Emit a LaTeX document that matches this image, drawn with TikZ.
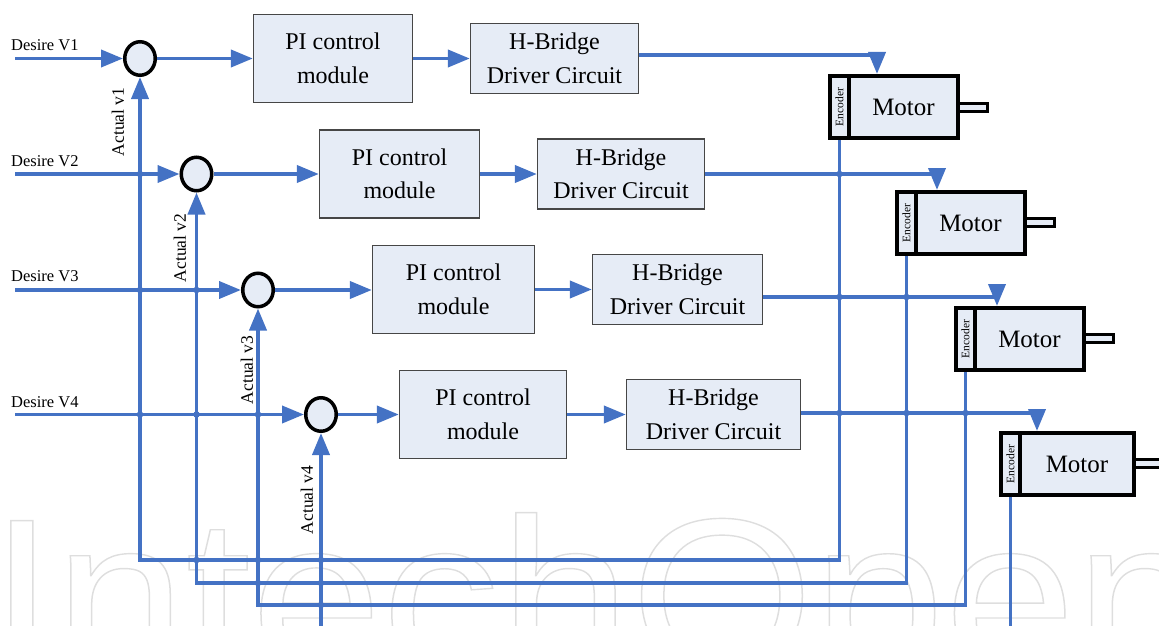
\documentclass[tikz,border=0pt]{standalone}
\usepackage{fontspec}
\setmainfont{Liberation Serif}
\newfontfamily\tnr{Liberation Serif}
\newfontfamily\wmfont{Liberation Sans}
\usetikzlibrary{arrows.meta,shapes.geometric,calc}

\definecolor{wire}{HTML}{4472C4}
\definecolor{boxfill}{RGB}{230,236,246}
\definecolor{boxline}{RGB}{70,70,70}
\definecolor{wmline}{RGB}{222,222,222}

% stroked (outlined) text for the background mark
\newcommand\strokedtext[1]{%
  \special{pdf:literal direct 1 Tr 1.4 w}#1\special{pdf:literal direct 0 Tr}}

\tikzset{
  wire/.style={draw=wire, line width=3.8pt},
  flow/.style={wire, -{Triangle[length=22pt,width=17pt]}},
  block/.style={draw=boxline, fill=boxfill, line width=1.3pt, align=center,
    inner sep=0pt, font=\tnr\fontsize{24}{33.5}\selectfont},
  pibox/.style={block, minimum height=88pt},
  hbbox/.style={block, minimum height=70pt},
  sumnode/.style={ellipse, draw=black, fill=boxfill, line width=3.5pt,
    minimum width=30.5pt, minimum height=33.5pt, inner sep=0pt},
  encbox/.style={draw=black, fill=boxfill, line width=3.5pt,
    minimum width=19pt, minimum height=62pt, inner sep=0pt},
  motorbody/.style={draw=black, fill=boxfill, line width=3.5pt,
    minimum height=62pt, inner sep=0pt, font=\tnr\fontsize{25}{25}\selectfont},
  shaft/.style={draw=black, fill=boxfill, line width=3pt},
  inlabel/.style={anchor=west, inner sep=0pt, font=\tnr\fontsize{16.5}{16.5}\selectfont},
  fblabel/.style={rotate=90, inner sep=0pt, font=\tnr\fontsize{17.5}{17.5}\selectfont},
  enclabel/.style={rotate=90, inner sep=0pt, font=\tnr\fontsize{11.5}{11.5}\selectfont},
  joint/.style={circle, fill=wire, inner sep=0pt, minimum size=6.5pt},
}

\begin{document}
\begin{tikzpicture}[x=1pt, y=-1pt]
\useasboundingbox (0,0) rectangle (1159,626);
\clip (0,0) rectangle (1159,626);

% publisher mark in the background
\node[anchor=base west, inner sep=0pt, xscale=1.07, transform shape,
      text=wmline, font=\wmfont\fontsize{220}{220}\selectfont] (wm) at (-11,672)
      {\strokedtext{IntechOpen}};

% reference inputs
\coordinate (in1) at (15,58.5);
\coordinate (in2) at (15,174);
\coordinate (in3) at (15,290);
\coordinate (in4) at (15,414.5);
\node[inlabel] (d1) at (11,45)  {Desire V1};
\node[inlabel] (d2) at (11,161) {Desire V2};
\node[inlabel] (d3) at (11,276) {Desire V3};
\node[inlabel] (d4) at (11,402) {Desire V4};

% summing junctions
\node[sumnode] (c1) at (140,58.5) {};
\node[sumnode] (c2) at (196.5,174) {};
\node[sumnode] (c3) at (258,290) {};
\node[sumnode] (c4) at (321,414.5) {};

% controllers
\node[pibox, minimum width=159pt] (pi1) at (333,58.5)  {PI control\\module};
\node[pibox, minimum width=160pt] (pi2) at (399.5,174) {PI control\\module};
\node[pibox, minimum width=162pt] (pi3) at (453.5,289.5) {PI control\\module};
\node[pibox, minimum width=167pt] (pi4) at (483,414.5) {PI control\\module};

% drivers
\node[hbbox, minimum width=168pt] (hb1) at (554.5,58.5) {H-Bridge\\Driver Circuit};
\node[hbbox, minimum width=167pt] (hb2) at (621,174)    {H-Bridge\\Driver Circuit};
\node[hbbox, minimum width=170pt] (hb3) at (677.5,289.5) {H-Bridge\\Driver Circuit};
\node[hbbox, minimum width=174pt] (hb4) at (713.5,414.5) {H-Bridge\\Driver Circuit};

% motors: shaft, body, encoder strip
\draw[shaft] (958,103) rectangle ++(29,8);
\draw[shaft] (1025,218) rectangle ++(29,8);
\draw[shaft] (1084,334) rectangle ++(29,8);
\draw[shaft] (1134,459) rectangle ++(29,8);

\node[motorbody, minimum width=109pt] (mb1) at (903.5,107) {Motor};
\node[motorbody, minimum width=109pt] (mb2) at (970.5,223) {Motor};
\node[motorbody, minimum width=109pt] (mb3) at (1029.5,339) {Motor};
\node[motorbody, minimum width=114pt] (mb4) at (1077,464) {Motor};

\node[encbox] (enc1) at (839.5,107) {};
\node[encbox] (enc2) at (906.5,223) {};
\node[encbox] (enc3) at (965.5,339) {};
\node[encbox] (enc4) at (1010.5,464) {};
\node[enclabel] (e1) at (enc1) {Encoder};
\node[enclabel] (e2) at (enc2) {Encoder};
\node[enclabel] (e3) at (enc3) {Encoder};
\node[enclabel] (e4) at (enc4) {Encoder};

% motor input points and driver outputs
\coordinate (t1) at (877,74);
\coordinate (t2) at (937,190);
\coordinate (t3) at (997,306);
\coordinate (t4) at (1037,431);
\coordinate (o1) at ($(hb1.east)+(0,-3.5)$);
\coordinate (o2) at (hb2.east);
\coordinate (o3) at ($(hb3.east)+(0,7.5)$);
\coordinate (o4) at ($(hb4.east)+(0,-1.5)$);

% feedback bus levels
\coordinate (b1) at (0,560);
\coordinate (b2) at (0,583);
\coordinate (b3) at (0,605);
\coordinate (b4) at (0,629.5);

% forward paths
\foreach \i in {1,2,3,4} {
  \draw[flow] (in\i) -- (c\i.west);
  \draw[flow] (c\i.east) -- (c\i.east -| pi\i.west);
  \draw[flow] (pi\i.east) -- (pi\i.east -| hb\i.west);
  \draw[flow] (o\i) -| (t\i);
}

% feedback paths
\foreach \i in {1,2,3,4} {
  \draw[flow] (enc\i.south) |- (c\i.south |- b\i) -- (c\i.south);
}

% crossing dots
\foreach \p in {
  {c1.south |- in2}, {c1.south |- in3}, {c1.south |- in4},
  {c2.south |- in3}, {c2.south |- in4}, {c3.south |- in4},
  {c2.south |- b1}, {c3.south |- b1}, {c4.south |- b1},
  {c3.south |- b2}, {c4.south |- b2}, {c4.south |- b3},
  {enc1.south |- o2}, {enc1.south |- o3}, {enc2.south |- o3},
  {enc1.south |- o4}, {enc2.south |- o4}, {enc3.south |- o4}} {
  \node[joint] at (\p) {};
}

% feedback labels
\node[fblabel] (a1) at (118,122) {Actual v1};
\node[fblabel] (a2) at (180,248) {Actual v2};
\node[fblabel] (a3) at (247,370) {Actual v3};
\node[fblabel] (a4) at (307,500) {Actual v4};
\end{tikzpicture}
\end{document}
